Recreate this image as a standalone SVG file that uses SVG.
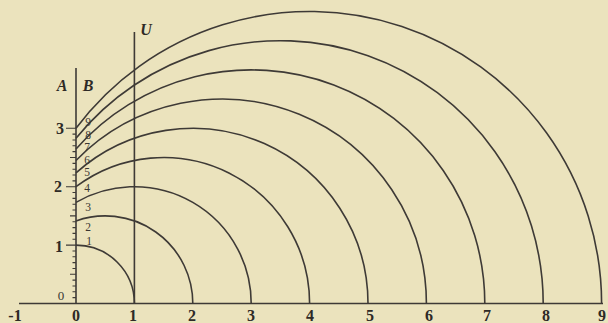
<svg xmlns="http://www.w3.org/2000/svg" width="608" height="323" viewBox="0 0 608 323">
<style>
.ln{stroke:#3e3a36;stroke-width:1.6;fill:none}
.tk{stroke:#3e3a36;stroke-width:1.1}
.ax{font-family:"Liberation Serif",serif;font-weight:bold;font-size:16px;fill:#2e2a26;text-anchor:middle}
.sm{font-family:"Liberation Serif",serif;font-size:11.5px;fill:#3a3632;text-anchor:middle}
.it{font-family:"Liberation Serif",serif;font-style:italic;font-weight:bold;font-size:16px;fill:#2e2a26;text-anchor:middle}
</style>
<rect width="608" height="323" fill="#ebe3bd"/>
<g id="axes">
<line class="ln" x1="19" y1="303.5" x2="603" y2="303.5"/>
<line class="ln" x1="76" y1="68" x2="76" y2="303.5"/>
<line class="ln" x1="134.4" y1="32" x2="134.4" y2="303.5"/>
</g>
<g id="ticks">
<path class="tk" d="M66 303.5H76M72.5 297.66H76M72.5 291.82H76M72.5 285.98H76M72.5 280.14H76M70 274.3H76M72.5 268.46H76M72.5 262.62H76M72.5 256.78H76M72.5 250.94H76M66 245.1H76M72.5 239.26H76M72.5 233.42H76M72.5 227.58H76M72.5 221.74H76M70 215.9H76M72.5 210.06H76M72.5 204.22H76M72.5 198.38H76M72.5 192.54H76M66 186.7H76M72.5 180.86H76M72.5 175.02H76M72.5 169.18H76M72.5 163.34H76M70 157.5H76M72.5 151.66H76M72.5 145.82H76M72.5 139.98H76M72.5 134.14H76M66 128.3H76"/>
</g>
<g id="connectors">
<path class="ln" d="M76 245.1A58.4 58.4 0 0 1 134.4 303.5"/>
<path class="ln" d="M76 220.91A87.6 87.6 0 0 1 192.8 303.5"/>
<path class="ln" d="M76 202.35A116.8 116.8 0 0 1 251.2 303.5"/>
<path class="ln" d="M76 186.7A146 146 0 0 1 309.6 303.5"/>
<path class="ln" d="M76 172.91A175.2 175.2 0 0 1 368 303.5"/>
<path class="ln" d="M76 160.45A204.4 204.4 0 0 1 426.4 303.5"/>
<path class="ln" d="M76 148.99A233.6 233.6 0 0 1 484.8 303.5"/>
<path class="ln" d="M76 138.32A262.8 262.8 0 0 1 543.2 303.5"/>
<path class="ln" d="M76 128.3A292 292 0 0 1 601.6 303.5"/>
</g>
<g id="axis-labels">
<text class="it" x="62" y="91">A</text>
<text class="it" x="88" y="91">B</text>
<text class="it" x="146" y="35">U</text>
<text class="ax" x="60" y="134">3</text>
<text class="ax" x="58" y="192">2</text>
<text class="ax" x="59" y="252">1</text>
<text class="sm" x="61" y="300" style="font-size:13px">0</text>
</g>
<g id="b-scale">
<text class="sm" x="89" y="245">1</text>
<text class="sm" x="88" y="231">2</text>
<text class="sm" x="88" y="211">3</text>
<text class="sm" x="87" y="192">4</text>
<text class="sm" x="87" y="176">5</text>
<text class="sm" x="87" y="163.5">6</text>
<text class="sm" x="87" y="151">7</text>
<text class="sm" x="88" y="138.5">8</text>
<text class="sm" x="88" y="126">9</text>
</g>
<g id="x-labels">
<text class="ax" x="15" y="321">-1</text>
<text class="ax" x="76" y="321">0</text>
<text class="ax" x="133" y="321">1</text>
<text class="ax" x="192" y="321">2</text>
<text class="ax" x="251" y="321">3</text>
<text class="ax" x="310" y="321">4</text>
<text class="ax" x="370" y="321">5</text>
<text class="ax" x="429" y="321">6</text>
<text class="ax" x="487" y="321">7</text>
<text class="ax" x="546" y="321">8</text>
<text class="ax" x="602" y="321">9</text>
</g>
</svg>
